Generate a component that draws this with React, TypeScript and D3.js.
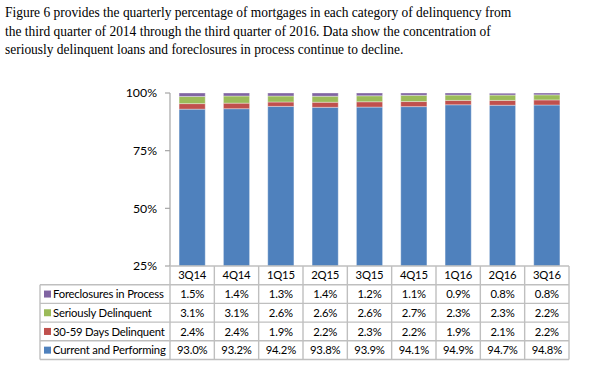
import React from "react";
import * as d3 from "d3";

const quarters = ["3Q14", "4Q14", "1Q15", "2Q15", "3Q15", "4Q15", "1Q16", "2Q16", "3Q16"];
const current = [93.0, 93.2, 94.2, 93.8, 93.9, 94.1, 94.9, 94.7, 94.8];
const days3059 = [2.4, 2.4, 1.9, 2.2, 2.3, 2.2, 1.9, 2.1, 2.2];
const serious = [3.1, 3.1, 2.6, 2.6, 2.6, 2.7, 2.3, 2.3, 2.2];
const foreclosures = [1.5, 1.4, 1.3, 1.4, 1.2, 1.1, 0.9, 0.8, 0.8];
const yTicks = [25, 50, 75, 100];
const titleLines = [
  "Figure 6 provides the quarterly percentage of mortgages in each category of delinquency from",
  "the third quarter of 2014 through the third quarter of 2016. Data show the concentration of",
  "seriously delinquent loans and foreclosures in process continue to decline.",
];

const series = [
  { name: "Current and Performing", values: current, color: "#4F81BD" },
  { name: "30-59 Days Delinquent", values: days3059, color: "#C0504D" },
  { name: "Seriously Delinquent", values: serious, color: "#9BBB59" },
  { name: "Foreclosures in Process", values: foreclosures, color: "#8064A2" },
];

export default function App() {
  const W = 613, H = 378;
  const x0 = 170, x1 = 569;
  const legendX = 40;
  const x = d3.scaleBand<string>().domain(quarters).range([x0, x1]).paddingInner(0.41).paddingOuter(0.205);
  const col = d3.scaleBand<string>().domain(quarters).range([x0, x1]);
  const y = d3.scaleLinear().domain([25, 100]).range([266, 93]);
  const rowH = 18.7;
  const headerTop = 266;
  const tableRows = [...series].reverse();
  const font = "Lato, 'Liberation Sans', sans-serif";
  const grid = "#BFBFBF";

  const stacks = quarters.map((q, i) => {
    let acc = 0;
    return series.map((s) => {
      const v0 = acc;
      acc += s.values[i];
      return { q, v0, v1: acc, color: s.color };
    });
  });

  return (
    <svg width={W} height={H} style={{ position: "absolute", left: 0, top: 0, background: "#fff" }}>
      <g
        fontFamily="'Liberation Serif', 'Times New Roman', serif"
        fontSize={15.6}
        fill="#000"
        transform="translate(5,0) scale(0.862,1)"
      >
        {titleLines.map((t, i) => (
          <text key={i} x={0} y={17.3 + i * 18.4}>{t}</text>
        ))}
      </g>
      <defs>
        <clipPath id="plot">
          <rect x={x0} y={y(100) - 1} width={x1 - x0} height={y(25) - y(100) + 1} />
        </clipPath>
      </defs>
      <g clipPath="url(#plot)">
        {stacks.map((st, i) =>
          st.map((seg, j) => {
            const top = y(Math.min(seg.v1, 100));
            const bot = y(Math.max(seg.v0, 25));
            return (
              <rect
                key={i + "-" + j}
                x={x(seg.q)!}
                y={top}
                width={x.bandwidth()}
                height={Math.max(0, bot - top)}
                fill={seg.color}
                stroke="#ffffff"
                strokeOpacity={0.35}
                strokeWidth={1}
              />
            );
          })
        )}
      </g>
      <line x1={x0} x2={x0} y1={y(100)} y2={y(25)} stroke="#A6A6A6" strokeWidth={1.2} />
      {yTicks.map((t) => (
        <g key={t}>
          <line x1={x0 - 5} x2={x0} y1={y(t)} y2={y(t)} stroke="#A6A6A6" strokeWidth={1.2} />
          <text x={x0 - 13} y={y(t)} dy="0.35em" textAnchor="end" fontFamily={font} fontSize={12.3} fill="#000">
            {t + "%"}
          </text>
        </g>
      ))}
      <g fontFamily={font} fontSize={11.3} fill="#000" style={{ letterSpacing: "-0.2px" }}>
        {quarters.map((q) => (
          <text key={q} x={col(q)! + col.bandwidth() / 2} y={headerTop + rowH / 2} dy="0.36em" textAnchor="middle">
            {q}
          </text>
        ))}
        {tableRows.map((s, r) => {
          const ry = headerTop + rowH * (r + 1);
          return (
            <g key={s.name}>
              <rect x={legendX + 4} y={ry + rowH / 2 - 3.5} width={7} height={7} fill={s.color} />
              <text x={legendX + 13} y={ry + rowH / 2} dy="0.36em">{s.name}</text>
              {quarters.map((q, i) => (
                <text key={q} x={col(q)! + col.bandwidth() / 2} y={ry + rowH / 2} dy="0.36em" textAnchor="middle">
                  {s.values[i].toFixed(1) + "%"}
                </text>
              ))}
            </g>
          );
        })}
      </g>
      <g stroke={grid} strokeWidth={1.4} fill="none">
        <line x1={x0} x2={x1} y1={headerTop} y2={headerTop} />
        {[1, 2, 3, 4, 5].map((k) => (
          <line key={k} x1={legendX} x2={x1} y1={headerTop + rowH * k} y2={headerTop + rowH * k} />
        ))}
        <line x1={legendX} x2={legendX} y1={headerTop + rowH} y2={headerTop + rowH * 5} />
        {quarters.map((q) => (
          <line key={q} x1={col(q)!} x2={col(q)!} y1={headerTop} y2={headerTop + rowH * 5} />
        ))}
        <line x1={x1} x2={x1} y1={headerTop} y2={headerTop + rowH * 5} />
      </g>
    </svg>
  );
}
